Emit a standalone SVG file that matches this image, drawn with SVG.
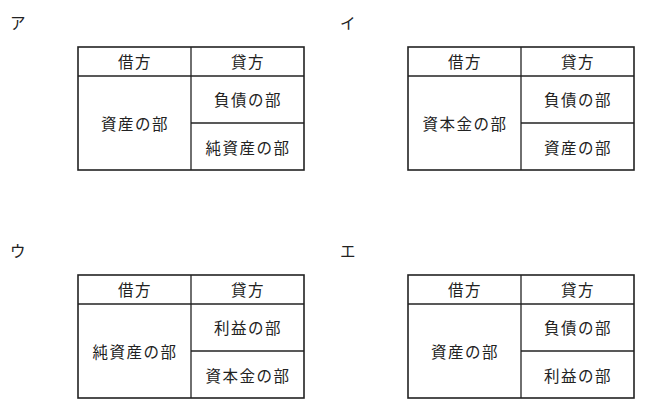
<svg xmlns="http://www.w3.org/2000/svg" width="654" height="414" viewBox="0 0 654 414">
<style>
.b{fill:none;stroke:#222;stroke-width:1.6}
.l{stroke:#222;stroke-width:1.3}
text{font-family:"Noto Sans CJK JP",sans-serif;font-size:15.5px;letter-spacing:1.5px;fill:#222;text-anchor:middle;dominant-baseline:central}
.m{text-anchor:start}
</style>
<rect width="654" height="414" fill="#fff"/>
<text class="m" x="10" y="22">ア</text>
<text class="m" x="340" y="22">イ</text>
<text class="m" x="10" y="250">ウ</text>
<text class="m" x="340" y="250">エ</text>
<g id="tA">
<rect class="b" x="78" y="47" width="226" height="123"/>
<line class="l" x1="78" y1="76" x2="304" y2="76"/><line class="l" x1="191" y1="47" x2="191" y2="170"/><line class="l" x1="191" y1="123" x2="304" y2="123"/>
<text x="135" y="61">借方</text><text x="248" y="61">貸方</text>
<text x="135" y="123">資産の部</text><text x="248" y="99">負債の部</text><text x="248" y="147">純資産の部</text>
</g>
<g id="tI">
<rect class="b" x="408" y="47" width="226" height="123"/>
<line class="l" x1="408" y1="76" x2="634" y2="76"/><line class="l" x1="521" y1="47" x2="521" y2="170"/><line class="l" x1="521" y1="123" x2="634" y2="123"/>
<text x="465" y="61">借方</text><text x="578" y="61">貸方</text>
<text x="465" y="123">資本金の部</text><text x="578" y="99">負債の部</text><text x="578" y="147">資産の部</text>
</g>
<g id="tU">
<rect class="b" x="78" y="275" width="226" height="123"/>
<line class="l" x1="78" y1="304" x2="304" y2="304"/><line class="l" x1="191" y1="275" x2="191" y2="398"/><line class="l" x1="191" y1="351" x2="304" y2="351"/>
<text x="135" y="289">借方</text><text x="248" y="289">貸方</text>
<text x="135" y="351">純資産の部</text><text x="248" y="327">利益の部</text><text x="248" y="375">資本金の部</text>
</g>
<g id="tE">
<rect class="b" x="408" y="275" width="226" height="123"/>
<line class="l" x1="408" y1="304" x2="634" y2="304"/><line class="l" x1="521" y1="275" x2="521" y2="398"/><line class="l" x1="521" y1="351" x2="634" y2="351"/>
<text x="465" y="289">借方</text><text x="578" y="289">貸方</text>
<text x="465" y="351">資産の部</text><text x="578" y="327">負債の部</text><text x="578" y="375">利益の部</text>
</g>
<g id="connectors"/>
</svg>
